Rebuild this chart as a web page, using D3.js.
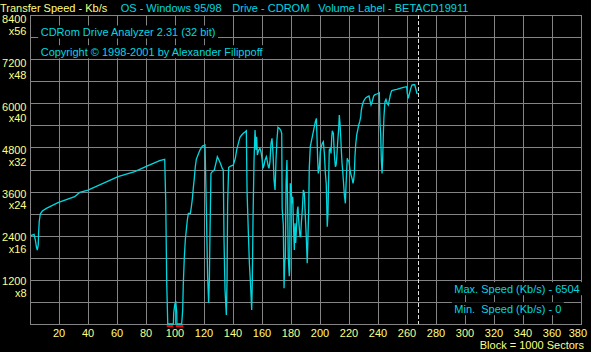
<!DOCTYPE html>
<html><head><meta charset="utf-8">
<script src="https://cdn.jsdelivr.net/npm/d3@7"></script>
<style>
html,body{margin:0;padding:0;background:#000;}
svg{display:block;}
text{font-family:"Liberation Sans",Arial,sans-serif;font-size:11px;}
</style></head><body>
<svg id="c" width="591" height="352"></svg>
<script>
// ---- data (block number in thousands of sectors, transfer speed Kb/s) ----
const blocks = [0.5,2.8,3.7,4.4,5.0,5.7,5.9,6.4,7.1,8.5,11.3,19.3,30.8,34.3,40.0,60.7,72.2,81.4,89.4,92.9,93.6,94.3,95.0,98.9,99.1,99.8,100.5,101.2,101.3,104.6,
105.3,105.7,106.4,107.1,107.8,108.5,109.2,110.6,111.3,112.0,112.6,113.3,114.0,114.7,116.1,117.2,118.9,120.7,121.1,121.8,122.5,123.2,123.7,124.1,124.8,125.7,127.1,128.3,129.2,130.3,131.5,132.6,133.3,133.8,134.5,135.4,135.9,136.3,137.0,138.4,140.2,141.6,142.5,143.7,144.8,146.0,147.1,148.5,149.2,149.7,150.6,151.3,152.0,152.9,153.3,153.8,154.5,155.2,155.9,156.3,156.8,157.7,158.6,159.3,160.0,160.7,161.4,162.1,163.0,163.7,164.4,164.8,165.5,166.2,166.9,167.6,168.3,169.0,169.7,170.3,171.0,171.9,172.9,173.6,173.9,174.7,175.2,175.7,176.1,176.6,177.2,177.7,178.1,178.8,179.1,179.5,180.0,180.7,181.2,181.6,182.3,182.8,183.2,183.7,184.4,184.8,185.3,186.2,186.7,187.1,187.8,188.5,189.2,189.9,190.6,191.2,191.7,192.2,192.6,193.3,194.0,194.7,195.4,196.1,196.8,197.5,198.0,198.4,198.8,199.5,200.2,200.9,201.6,202.3,203.0,203.7,204.3,205.0,205.5,206.0,206.4,207.1,207.6,208.1,208.5,209.2,209.7,210.2,210.6,211.1,211.6,212.2,212.9,213.3,213.8,214.3,214.7,215.2,215.6,216.1,216.8,217.5,217.9,218.4,218.8,219.3,220.0,220.7,221.4,222.1,222.8,223.2,223.7,224.1,224.6,225.3,226.0,226.7,227.4,228.1,228.5,229.2,229.9,230.8,231.7,232.9,233.8,234.5,235.2,235.7,236.3,237.0,237.9,239.1,240.2,240.9,241.4,241.8,242.3,242.8,243.2,243.7,244.1,244.8,245.5,246.0,246.4,247.1,247.8,248.5,249.4,250.6,252.9,255.2,257.5,259.8,260.2,260.9,261.6,262.6,263.4,264.4,265.3,266.0,266.7,267.1];
const speeds = [2400,2438,2283,2100,2011,2147,2450,2800,2990,3071,3143,3298,3461,3578,3642,4004,4140,4303,4440,4476,3343,1105,0,0,300,516,625,300,0,0,
380,1060,1785,2283,2555,2827,3009,3009,3190,3416,3688,3960,4276,4476,4620,4729,4838,4865,4140,2736,1286,580,1196,2373,4095,4140,4186,4385,4548,4458,4349,4231,4186,2283,924,245,1196,3280,4258,4294,4322,4503,4729,4911,5073,5137,5183,5228,5255,3596,2465,1650,1150,380,1105,2827,4458,5273,4729,5091,4593,4729,4775,4683,4503,4231,4322,4458,4548,4412,4276,4231,4412,4911,5047,4639,3914,3642,4503,5001,5346,5319,5273,5183,3143,2690,970,1694,1800,3868,4458,3099,1830,1300,1500,3823,3732,3280,3461,2827,2011,2736,2200,2555,3099,3190,2827,2373,2373,2736,3099,3642,3551,2917,2300,1650,2373,3099,4231,4820,4956,5091,5228,5364,5500,5591,5001,4458,4095,4231,4683,4820,4911,4956,4639,4095,3823,2646,3009,4004,4729,4775,4639,5091,5255,5183,4775,4458,4276,4322,4548,4956,5319,5681,5455,5091,4729,4367,4186,3914,3506,3280,3732,4186,4503,4458,4412,4186,4050,3960,3824,3914,4095,4548,4865,5137,5273,5410,5500,5636,5817,5953,6043,6107,6152,6180,6198,6070,5953,5998,6089,6198,6234,6252,6270,6288,5455,5183,4458,4095,4458,5183,5636,6043,6107,6043,5998,5953,6089,6225,6343,6360,6380,6406,6433,6451,6270,6134,6252,6406,6496,6504,6504,6406,6288,6252];
const errorStarts = [94.3, 100.5];
const errorEnds = [98.8, 105.7];
const markerBlock = 267.8;
const speedGrid = [0,600,1200,1800,2400,3000,3600,4200,4800,5400,6000,6600,7200,7800,8400];
const speedLabels = [8400,7200,6000,4800,3600,2400,1200];
const multLabels = ["x56","x48","x40","x32","x24","x16","x8"];
const blockGrid = [0,20,40,60,80,100,120,140,160,180,200,220,240,260,280,300,320,340,360,380];
const blockTicks = [20,40,60,80,100,120,140,160,180,200,220,240,260,280,300,320,340,360,380];
const headerTexts = ["Transfer Speed - Kb/s","OS - Windows 95/98","Drive - CDROM","Volume Label - BETACD19911"];
const infoTexts = ["CDRom Drive Analyzer 2.31 (32 bit)","Copyright \u00A9 1998-2001 by Alexander Filippoff"];
const maxSpeed = 6504, minSpeed = 0;
const unitText = "Block = 1000 Sectors";

// ---- drawing ----
const YEL = "#ffff80", CYAN = "#00d8e0", GRID = "#848484";
const svg = d3.select("#c");
svg.append("rect").attr("width",591).attr("height",352).attr("fill","#000");

const x = d3.scaleLinear().domain([0,380]).range([30,581]);
const y = d3.scaleLinear().domain([0,8400]).range([324,15]);
const labelY = d3.scaleLinear().domain([1200,8400]).range([285,23.3]);

const g = svg.append("g").attr("shape-rendering","crispEdges");
g.selectAll("line.h").data(speedGrid).join("line")
  .attr("x1",x(0)).attr("x2",x(380))
  .attr("y1",d=>Math.round(y(d))+0.5).attr("y2",d=>Math.round(y(d))+0.5)
  .attr("stroke",GRID).attr("stroke-width",1);
g.selectAll("line.v").data(blockGrid).join("line")
  .attr("x1",d=>Math.round(x(d))+0.5).attr("x2",d=>Math.round(x(d))+0.5)
  .attr("y1",y(8400)).attr("y2",y(0)+1)
  .attr("stroke",GRID).attr("stroke-width",1);

// header
const headerX = [0,120.7,232.3,318.3];
svg.selectAll("text.hdr").data(headerTexts).join("text")
  .attr("x",(d,i)=>headerX[i]).attr("y",11.5)
  .attr("fill",(d,i)=>i===0?YEL:CYAN).text(d=>d);

// y labels
svg.selectAll("text.yl").data(speedLabels).join("text")
  .attr("x",26.5).attr("y",d=>labelY(d)).attr("text-anchor","end")
  .attr("fill",YEL).text(d=>d);
svg.selectAll("text.ym").data(speedLabels).join("text")
  .attr("x",26.5).attr("y",(d)=>labelY(d)+11.7).attr("text-anchor","end")
  .attr("fill",YEL).text((d,i)=>multLabels[i]);

// x labels
svg.selectAll("text.xl").data(blockTicks).join("text")
  .attr("x",d=>d===380?587:x(d)).attr("y",337)
  .attr("text-anchor",d=>d===380?"end":"middle")
  .attr("fill",YEL).text(d=>d);
svg.append("text").attr("x",584).attr("y",349).attr("text-anchor","end")
  .attr("fill",YEL).text(unitText);

// boxed texts
function boxed(str, tx, ty){
  const t = svg.append("text").attr("x",tx).attr("y",ty).attr("fill",CYAN).text(str);
  const w = t.node().getComputedTextLength();
  svg.insert("rect", () => t.node()).attr("x",tx-2.5).attr("y",ty-10.5)
    .attr("width",w+5).attr("height",13).attr("fill","#000");
}
boxed(infoTexts[0], 40.7, 36);
boxed(infoTexts[1], 40.7, 55.7);
boxed("Max. Speed (Kb/s) - " + maxSpeed, 454.3, 292.7);
boxed("Min.\u00A0 Speed (Kb/s) - " + minSpeed, 454.3, 312.7);

// marker dashed line
svg.append("line")
  .attr("x1",Math.round(x(markerBlock))+0.5).attr("x2",Math.round(x(markerBlock))+0.5)
  .attr("y1",y(8400)).attr("y2",y(0))
  .attr("stroke","#e0e0e0").attr("stroke-width",1).attr("stroke-dasharray","4,2")
  .attr("shape-rendering","crispEdges");

// speed curve
const pts = blocks.map((b,i)=>[b,speeds[i]]);
svg.append("path").datum(pts)
  .attr("d", d3.line().x(d=>x(d[0])).y(d=>y(d[1])))
  .attr("fill","none").attr("stroke",CYAN).attr("stroke-width",1.3)
  .attr("stroke-linejoin","miter");

// error marks
svg.selectAll("rect.err").data(errorStarts).join("rect")
  .attr("x",d=>x(d)).attr("width",(d,i)=>x(errorEnds[i])-x(d))
  .attr("y",325).attr("height",2).attr("fill","#ff0000");
</script>
</body></html>
